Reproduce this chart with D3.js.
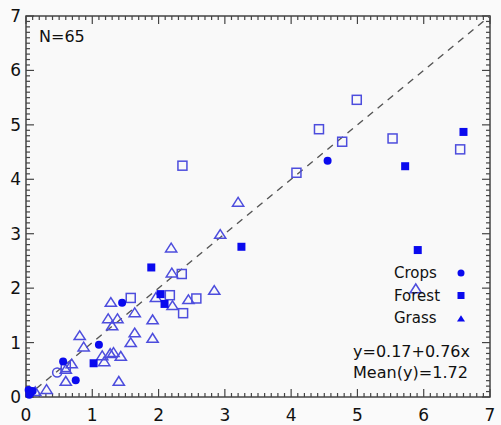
<!DOCTYPE html>
<html><head><meta charset="utf-8">
<script src="https://cdn.jsdelivr.net/npm/d3@7"></script>
<style>body{margin:0;background:#fafafa}svg{display:block}</style>
</head><body>
<svg id="c" width="501" height="425"></svg>
<script>
// Data (x, y)
const grassOpen = [[3.2,3.57],[2.93,2.98],[2.19,2.73],[2.2,2.27],[2.84,1.95],[1.96,1.82],[2.45,1.78],[2.21,1.67],[1.28,1.73],[1.64,1.54],[1.24,1.43],[1.38,1.43],[1.30,1.30],[1.91,1.41],[1.64,1.17],[1.58,0.99],[1.91,1.07],[0.81,1.12],[0.87,0.91],[1.15,0.75],[1.18,0.64],[1.27,0.79],[1.32,0.81],[1.43,0.74],[0.69,0.60],[0.60,0.50],[0.60,0.28],[1.40,0.28],[0.31,0.13],[0.14,0.09],[5.88,1.98]];
const forestOpen = [[1.58,1.82],[2.17,1.87],[2.35,2.26],[2.57,1.81],[2.37,1.54],[0.60,0.55],[4.99,5.46],[4.42,4.92],[4.77,4.69],[5.53,4.75],[6.55,4.55],[4.08,4.12],[2.36,4.25]];
const cropsOpen = [[0.47,0.45]];
const forestFilled = [[6.60,4.87],[5.72,4.24],[1.89,2.38],[2.03,1.89],[2.09,1.71],[1.02,0.62],[3.25,2.76],[5.91,2.70]];
const cropsFilled = [[4.55,4.34],[1.45,1.73],[1.10,0.96],[0.56,0.65],[0.75,0.31],[0.04,0.13],[0.07,0.08],[0.10,0.11],[0.05,0.04]];
const xTicks = [0,1,2,3,4,5,6,7];
const yTicks = [0,1,2,3,4,5,6,7];
const legendItems = ["Crops","Forest","Grass"];
const nLabel = "N=65";
const eqLabel = "y=0.17+0.76x";
const meanLabel = "Mean(y)=1.72";

const svg = d3.select("#c");
const L=26,R=490,T=16,B=397;
const x = d3.scaleLinear().domain([0,7]).range([L,R]);
const y = d3.scaleLinear().domain([0,7]).range([B,T]);
const filled="#0a0aee", openC="#4d4ddd";
const font="'DejaVu Sans', sans-serif";

// frame
svg.append("rect").attr("x",L).attr("y",T).attr("width",R-L).attr("height",B-T)
  .attr("fill","#f9f9f9").attr("stroke","#444").attr("stroke-width",1.5);

const minors = d3.range(0,7.0001,0.1).map(v=>+v.toFixed(2));
const g=svg.append("g").attr("stroke","#444").attr("stroke-width",1.2);
minors.forEach(v=>{
  const major = Math.abs(v-Math.round(v))<1e-6;
  const len = major?8:4;
  g.append("line").attr("x1",x(v)).attr("x2",x(v)).attr("y1",B).attr("y2",B-len);
  g.append("line").attr("x1",x(v)).attr("x2",x(v)).attr("y1",T).attr("y2",T+len);
  g.append("line").attr("y1",y(v)).attr("y2",y(v)).attr("x1",L).attr("x2",L+len);
  g.append("line").attr("y1",y(v)).attr("y2",y(v)).attr("x1",R).attr("x2",R-len);
});

svg.selectAll(".xt").data(xTicks).enter().append("text")
  .attr("x",d=>x(d)).attr("y",421).attr("text-anchor","middle")
  .attr("font-family",font).attr("font-size",17).attr("fill","#111").text(d=>d);
svg.selectAll(".yt").data(yTicks).enter().append("text")
  .attr("x",21).attr("y",d=>y(d)+6).attr("text-anchor","end")
  .attr("font-family",font).attr("font-size",17).attr("fill","#111").text(d=>d);

// 1:1 line
svg.append("line").attr("x1",x(0)).attr("y1",y(0)).attr("x2",x(7)).attr("y2",y(7))
  .attr("stroke","#555").attr("stroke-width",1.4).attr("stroke-dasharray","7,6");

function tri(cx,cy,s){return `M${cx},${cy-s*0.75}L${cx+s*0.8},${cy+s*0.5}L${cx-s*0.8},${cy+s*0.5}Z`;}

svg.selectAll(".go").data(grassOpen).enter().append("path")
  .attr("d",d=>tri(x(d[0]),y(d[1]),7)).attr("fill","none").attr("stroke",openC).attr("stroke-width",1.5);
svg.selectAll(".fo").data(forestOpen).enter().append("rect")
  .attr("x",d=>x(d[0])-4.5).attr("y",d=>y(d[1])-4.5).attr("width",9).attr("height",9)
  .attr("fill","none").attr("stroke",openC).attr("stroke-width",1.5);
svg.selectAll(".co").data(cropsOpen).enter().append("circle")
  .attr("cx",d=>x(d[0])).attr("cy",d=>y(d[1])).attr("r",4.5)
  .attr("fill","none").attr("stroke",openC).attr("stroke-width",1.5);
svg.selectAll(".ff").data(forestFilled).enter().append("rect")
  .attr("x",d=>x(d[0])-4).attr("y",d=>y(d[1])-4).attr("width",8).attr("height",8).attr("fill",filled);
svg.selectAll(".cf").data(cropsFilled).enter().append("circle")
  .attr("cx",d=>x(d[0])).attr("cy",d=>y(d[1])).attr("r",4).attr("fill",filled);

// texts
svg.append("text").attr("x",39).attr("y",42).attr("font-family",font).attr("font-size",16).attr("fill","#111").text(nLabel);
legendItems.forEach((t,i)=>{
  const by=278+i*22.5;
  svg.append("text").attr("x",394).attr("y",by).attr("font-family",font).attr("font-size",15).attr("fill","#111").text(t);
  const mx=461,my=by-5;
  if(i===0) svg.append("circle").attr("cx",mx).attr("cy",my).attr("r",3.5).attr("fill",filled);
  if(i===1) svg.append("rect").attr("x",mx-3.5).attr("y",my-3.5).attr("width",7).attr("height",7).attr("fill",filled);
  if(i===2) svg.append("path").attr("d",tri(mx,my+1,5)).attr("fill",filled);
});
svg.append("text").attr("x",353).attr("y",357).attr("font-family",font).attr("font-size",15).attr("fill","#111")
  .attr("textLength",117).attr("lengthAdjust","spacingAndGlyphs").text(eqLabel);
svg.append("text").attr("x",353).attr("y",378).attr("font-family",font).attr("font-size",15).attr("fill","#111")
  .attr("textLength",115).attr("lengthAdjust","spacingAndGlyphs").text(meanLabel);
</script>
</body></html>
